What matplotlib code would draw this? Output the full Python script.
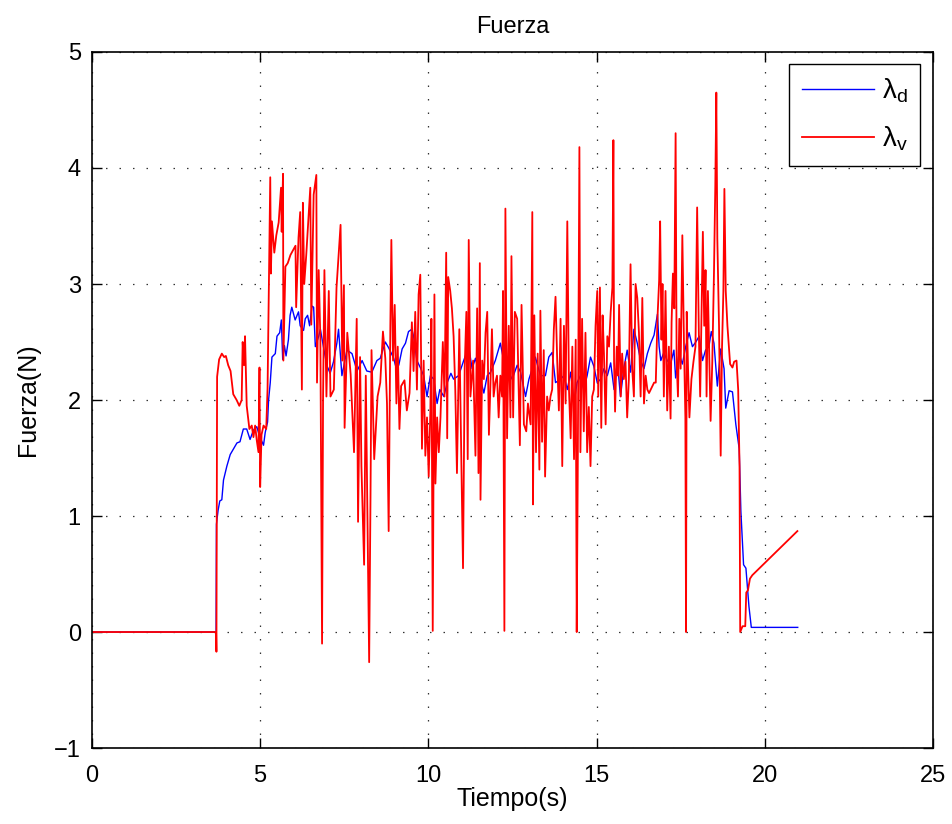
import numpy as np
import matplotlib.pyplot as plt

# lambda_d (blue) - tiempo (s) / fuerza (N)
t_d = [0.0, 3.69, 3.70, 3.75, 3.80, 3.86, 3.91, 4.01, 4.11, 4.21, 4.31, 4.40,
       4.50, 4.60, 4.70, 4.80, 4.90, 4.98, 5.10, 5.15, 5.22, 5.25, 5.30, 5.35,
       5.45, 5.50, 5.58, 5.63, 5.67, 5.72, 5.77, 5.84, 5.89, 5.94, 6.04, 6.14,
       6.19, 6.29, 6.34, 6.41, 6.47, 6.54, 6.59, 6.64, 6.74, 6.79, 6.88, 6.98,
       7.08, 7.18, 7.28, 7.33, 7.43, 7.58, 7.73, 7.88, 8.03, 8.17, 8.32, 8.47,
       8.57, 8.72, 8.82, 8.97, 9.02, 9.12, 9.22, 9.32, 9.41, 9.51, 9.56, 9.66,
       9.76, 9.86, 9.96, 10.06, 10.16, 10.26, 10.34, 10.46, 10.56, 10.67, 10.75,
       10.90, 11.05, 11.20, 11.30, 11.40, 11.55, 11.65, 11.75, 11.85, 11.99,
       12.14, 12.24, 12.34, 12.49, 12.64, 12.74, 12.89, 12.99, 13.09, 13.18,
       13.33, 13.48, 13.58, 13.68, 13.78, 13.93, 14.03, 14.13, 14.23, 14.33,
       14.42, 14.52, 14.62, 14.72, 14.82, 14.92, 15.02, 15.12, 15.22, 15.32,
       15.42, 15.52, 15.62, 15.71, 15.81, 15.91, 16.01, 16.11, 16.21, 16.31,
       16.41, 16.51, 16.61, 16.71, 16.81, 16.86, 16.91, 17.00, 17.10, 17.20,
       17.30, 17.35, 17.45, 17.55, 17.65, 17.75, 17.85, 17.95, 18.05, 18.15,
       18.24, 18.34, 18.41, 18.49, 18.59, 18.69, 18.79, 18.84, 18.94, 19.04,
       19.14, 19.24, 19.29, 19.37, 19.44, 19.53, 19.60, 20.98]
f_d = [0.0, 0.0, 0.93, 1.05, 1.13, 1.14, 1.31, 1.43, 1.53, 1.58, 1.63, 1.64,
       1.75, 1.75, 1.66, 1.74, 1.77, 1.69, 1.61, 1.72, 1.81, 2.00, 2.15, 2.37,
       2.40, 2.55, 2.58, 2.69, 2.35, 2.47, 2.38, 2.52, 2.73, 2.80, 2.69, 2.76,
       2.64, 2.60, 2.70, 2.73, 2.64, 2.81, 2.80, 2.46, 2.55, 2.61, 2.46, 2.30,
       2.23, 2.33, 2.49, 2.61, 2.21, 2.43, 2.40, 2.25, 2.34, 2.25, 2.24, 2.34,
       2.36, 2.50, 2.45, 2.36, 2.30, 2.30, 2.44, 2.49, 2.59, 2.61, 2.55, 2.34,
       2.28, 2.21, 2.03, 2.21, 2.18, 1.97, 2.09, 2.03, 2.15, 2.23, 2.18,
       2.21, 2.34, 2.46, 2.27, 2.36, 2.18, 2.06, 2.21, 2.24, 2.34,
       2.49, 2.34, 2.27, 2.18, 2.30, 2.24, 2.03, 2.18, 2.27, 2.37,
       2.21, 2.21, 2.37, 2.41, 2.15, 2.18, 2.21, 2.09, 2.24, 1.97,
       2.15, 2.21, 2.09, 2.21, 2.37, 2.29, 2.15, 2.18, 2.27, 2.21,
       2.32, 2.09, 2.33, 2.03, 2.27, 2.43, 2.24, 2.61, 2.49, 2.34,
       2.27, 2.40, 2.49, 2.56, 2.74, 2.46, 2.34, 2.41, 2.34, 2.31,
       2.43, 2.19, 2.40, 2.31, 2.46, 2.58, 2.46, 2.50, 2.55, 2.34,
       2.43, 2.46, 2.59, 2.49, 2.12, 2.44, 2.27, 1.93, 2.08, 2.07,
       1.79, 1.58, 1.04, 0.58, 0.55, 0.22, 0.04, 0.04]

# lambda_v (red)
t_v = [0.0, 3.69, 3.70, 3.72, 3.78, 3.86, 3.93, 3.98, 4.05, 4.12, 4.20, 4.30,
       4.38, 4.45, 4.48, 4.52, 4.55, 4.60, 4.68, 4.75, 4.80, 4.85, 4.90, 4.95,
       4.98, 5.00, 5.04, 5.10, 5.18, 5.22, 5.30, 5.32, 5.35, 5.42, 5.48, 5.55,
       5.62, 5.64, 5.68, 5.69, 5.75, 5.82, 5.90, 6.05, 6.07, 6.14, 6.19, 6.24,
       6.27, 6.31, 6.37, 6.49, 6.52, 6.59, 6.67, 6.69, 6.74, 6.79, 6.84, 6.87,
       6.91, 6.97, 7.04, 7.09, 7.19, 7.27, 7.39, 7.44, 7.49, 7.51, 7.59, 7.69,
       7.79, 7.87, 7.91, 7.97, 8.01, 8.09, 8.14, 8.24, 8.28, 8.31, 8.39, 8.49,
       8.57, 8.65, 8.72, 8.77, 8.82, 8.87, 8.90, 8.95, 9.00, 9.05, 9.09, 9.14,
       9.19, 9.29, 9.36, 9.44, 9.51, 9.56, 9.61, 9.66, 9.71, 9.76, 9.81, 9.86,
       9.91, 9.96, 10.01, 10.06, 10.09, 10.13, 10.18, 10.21, 10.26, 10.31,
       10.36, 10.43, 10.48, 10.53, 10.56, 10.59, 10.65, 10.70, 10.75, 10.80,
       10.85, 10.92, 10.97, 11.03, 11.08, 11.13, 11.17, 11.20, 11.25, 11.33,
       11.40, 11.45, 11.49, 11.53, 11.55, 11.60, 11.65, 11.70, 11.75, 11.80,
       11.85, 11.89, 11.94, 11.99, 12.04, 12.09, 12.14, 12.19, 12.22, 12.26,
       12.29, 12.34, 12.39, 12.44, 12.47, 12.52, 12.57, 12.64, 12.72, 12.77,
       12.84, 12.91, 12.96, 13.04, 13.09, 13.11, 13.15, 13.20, 13.25, 13.30,
       13.33, 13.38, 13.43, 13.47, 13.53, 13.58, 13.63, 13.68, 13.73, 13.78,
       13.83, 13.88, 13.93, 13.98, 14.03, 14.08, 14.13, 14.18, 14.23, 14.28,
       14.33, 14.38, 14.41, 14.44, 14.49, 14.52, 14.57, 14.62, 14.67, 14.72,
       14.77, 14.82, 14.87, 14.92, 14.97, 15.02, 15.05, 15.10, 15.14, 15.18,
       15.22, 15.27, 15.32, 15.37, 15.42, 15.47, 15.50, 15.52, 15.55, 15.60,
       15.64, 15.67, 15.72, 15.76, 15.81, 15.86, 15.91, 15.96, 16.01, 16.06,
       16.11, 16.16, 16.21, 16.26, 16.31, 16.36, 16.41, 16.46, 16.51, 16.56,
       16.61, 16.66, 16.71, 16.76, 16.81, 16.86, 16.89, 16.93, 16.96, 17.00,
       17.05, 17.10, 17.15, 17.20, 17.23, 17.27, 17.31, 17.35, 17.38, 17.42,
       17.46, 17.50, 17.55, 17.60, 17.64, 17.66, 17.68, 17.72, 17.76, 17.82,
       17.88, 17.94, 17.99, 18.04, 18.08, 18.12, 18.16, 18.20, 18.24, 18.27,
       18.31, 18.35, 18.39, 18.44, 18.49, 18.53, 18.56, 18.59, 18.64, 18.69,
       18.73, 18.77, 18.80, 18.84, 18.89, 18.97, 19.04, 19.09, 19.16, 19.21,
       19.25, 19.27, 19.34, 19.42, 19.45, 19.50, 19.56, 19.63, 20.97]
f_v = [0.0, 0.0, -0.17, 2.20, 2.35, 2.40, 2.37, 2.38, 2.30, 2.25, 2.05, 2.00,
       1.95, 2.00, 2.50, 2.30, 2.55, 1.95, 1.75, 1.78, 1.68, 1.78, 1.65, 1.55,
       2.28, 1.25, 1.70, 1.78, 1.75, 2.10, 3.92, 3.09, 3.54, 3.27, 3.42, 3.53,
       3.83, 3.45, 3.95, 2.34, 3.15, 3.18, 3.25, 3.33, 2.80, 3.40, 3.62, 2.09,
       3.70, 3.00, 3.25, 3.83, 2.65, 3.77, 3.94, 2.15, 3.12, 2.52, -0.10, 2.03,
       3.12, 2.03, 2.94, 2.03, 2.09, 2.97, 3.51, 2.34, 2.99, 1.76, 2.58, 2.22,
       1.55, 2.70, 0.95, 2.37, 1.43, 0.58, 2.21, -0.26, 1.16, 2.43, 1.49, 2.03,
       2.15, 2.59, 2.36, 1.97, 0.87, 2.64, 3.38, 2.34, 2.82, 1.97, 2.46, 1.75,
       2.12, 2.17, 1.91, 2.06, 2.67, 2.25, 2.76, 2.09, 2.91, 3.08, 1.58, 2.34,
       1.52, 1.85, 1.34, 1.91, 2.70, 0.01, 2.91, 1.28, 1.85, 1.55,
       1.85, 2.50, 2.03, 3.27, 1.67, 3.06, 2.94, 2.79, 2.55, 2.09,
       1.37, 2.61, 1.67, 0.55, 2.28, 2.76, 1.49, 3.38, 2.03, 2.34,
       1.52, 2.79, 1.37, 3.18, 1.14, 2.34, 2.18, 2.58, 2.76, 1.70,
       2.18, 2.61, 2.03, 2.15, 2.21, 1.85, 2.21, 2.03, 2.94, 0.01,
       3.65, 1.67, 2.64, 1.85, 3.24, 1.85, 2.76, 2.70, 1.61, 2.82,
       1.79, 1.73, 1.97, 1.79, 3.62, 1.10, 2.73, 1.55, 2.40, 1.40,
       2.77, 1.64, 2.43, 1.34, 2.03, 1.91, 2.03, 2.09, 2.61, 2.89,
       2.34, 1.91, 2.70, 1.43, 2.64, 1.97, 3.54, 2.09, 1.67, 2.46,
       1.49, 2.52, 0.00, 1.34, 4.18, 1.55, 2.70, 1.73, 2.58, 1.55,
       1.94, 1.43, 2.03, 2.09, 2.64, 2.94, 2.03, 2.97, 1.76, 2.73,
       2.40, 1.79, 2.55, 2.46, 2.76, 2.97, 4.24, 2.33, 1.90, 2.46,
       2.21, 2.82, 2.03, 2.40, 2.18, 2.33, 1.85, 2.18, 3.17, 2.27,
       2.03, 3.00, 2.88, 2.58, 2.03, 2.88, 1.97, 2.21, 2.09, 2.06,
       2.09, 2.12, 2.15, 2.15, 2.70, 3.03, 3.54, 2.52, 3.00, 2.03,
       2.94, 1.91, 2.46, 1.84, 2.67, 3.09, 2.79, 4.30, 2.33, 2.03,
       2.70, 2.27, 3.42, 2.46, 1.85, 0.00, 2.76, 2.27, 1.85, 2.18,
       2.33, 2.46, 3.66, 2.58, 2.03, 2.73, 3.45, 2.64, 3.12, 2.03,
       2.94, 2.40, 1.82, 2.33, 3.09, 3.85, 4.65, 3.39, 2.64, 1.52,
       2.46, 2.94, 3.82, 2.94, 2.64, 2.31, 2.28, 2.33, 2.34, 2.09,
       1.43, 0.00, 0.05, 0.05, 0.34, 0.36, 0.46, 0.49, 0.87]

x_ticks = [0, 5, 10, 15, 20, 25]
y_ticks = [-1, 0, 1, 2, 3, 4, 5]

plt.rcParams['font.family'] = ['Liberation Sans', 'DejaVu Sans']
plt.rcParams['font.size'] = 17

fig = plt.figure(figsize=(9.52, 8.24), dpi=100)
ax = fig.add_axes([0.0966, 0.0922, 0.8834, 0.8447])

ax.plot(t_d, f_d, color='#0000ff', lw=1.0, label=r'$\mathregular{\lambda_d}$')
ax.plot(t_v, f_v, color='#ff0000', lw=1.3, label=r'$\mathregular{\lambda_v}$')

ax.set_xlim(0, 25)
ax.set_ylim(-1, 5)
ax.set_xticks(x_ticks)
ax.set_yticks(y_ticks)
ax.set_yticklabels(['\u22121' if v < 0 else str(v) for v in y_ticks])
ax.tick_params(direction='in', length=7, width=1, top=True, right=True)
ax.tick_params(axis='x', pad=12)
ax.tick_params(axis='y', pad=8)
ax.grid(True, color='#333333', linestyle=(0, (1.2, 9.6)), linewidth=0.9)
for s in ax.spines.values():
    s.set_linewidth(1.2)

ax.set_title('Fuerza', fontsize=17, pad=14)
ax.set_xlabel('Tiempo(s)', fontsize=18, labelpad=0)
ax.set_ylabel('Fuerza(N)', fontsize=18, labelpad=10)

# legend box sits ~12 px in from the top-right corner, like the original
leg = ax.legend(loc='upper right', fontsize=20, handlelength=2.6,
                handletextpad=0.3, fancybox=False, edgecolor='black',
                framealpha=1, borderaxespad=0.45, labelspacing=0.7,
                borderpad=0.45)
leg.get_frame().set_linewidth(1.0)

fig.savefig('out.png', dpi=100)
